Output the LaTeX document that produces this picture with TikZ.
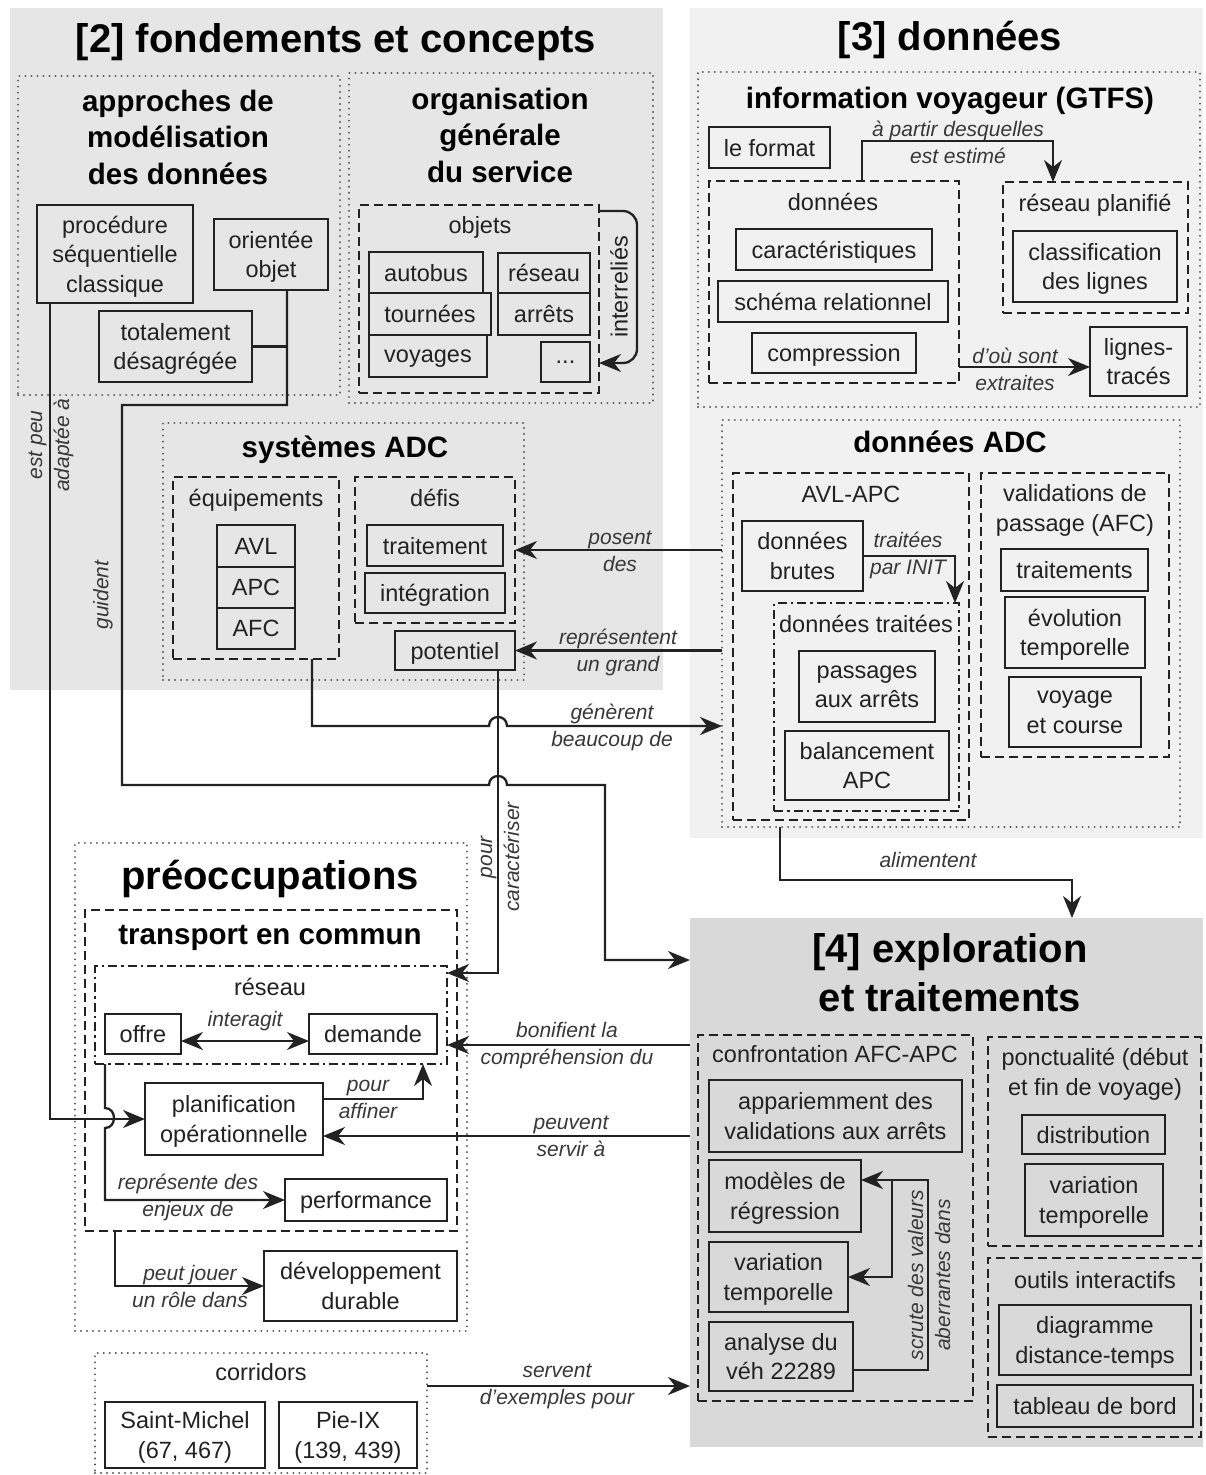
\documentclass[tikz,border=0pt]{standalone}
\usepackage{fontspec}
\setmainfont{Liberation Sans}
\usetikzlibrary{arrows.meta}
\definecolor{ink}{HTML}{222222}
\definecolor{pgray}{HTML}{E6E6E6}
\definecolor{plight}{HTML}{F1F1F1}
\definecolor{pdark}{HTML}{D9D9D9}
\definecolor{dotc}{HTML}{555555}
\newcommand\bigfont{\fontsize{40}{49}\selectfont\bfseries}
\newcommand\subfont{\fontsize{29.5}{36.5}\selectfont\bfseries}
\newcommand\boxfont{\fontsize{23.5}{29.5}\selectfont}
\newcommand\labfont{\fontsize{21}{27}\selectfont\itshape}
% \bx[style]{name}{x1}{y1}{x2}{y2}{text}: rectangle node between two corners
\newcommand\bx[7][solidbox]{\node[#1,minimum width={#5-#3},minimum height={#6-#4}] (#2) at ({(#3+#5)/2},{(#4+#6)/2}) {#7};}
\tikzset{
  frame/.style={draw=ink, line width=2.3pt, inner sep=0pt, outer sep=0pt, font=\boxfont, text=ink, align=center, text depth=0pt},
  solidbox/.style={frame},
  dotbox/.style={frame, draw=dotc, line width=2.2pt, line cap=round, dash pattern=on 0.01pt off 6pt},
  dashbox/.style={frame, dash pattern=on 9pt off 5pt},
  dashdotbox/.style={frame, dash pattern=on 9pt off 4pt on 2.5pt off 4pt},
  panel/.style={draw=none, inner sep=0pt, outer sep=0pt},
  conn/.style={draw=ink, line width=2.3pt},
  tip/.tip={Stealth[length=22pt,width=18pt,inset=7pt]},
  arr/.style={conn, -tip},
  arrs/.style={conn, tip-tip},
  lab/.style={font=\labfont, text=ink!90, align=center, inner sep=0pt},
  txt/.style={font=\boxfont, text=ink, align=center, inner sep=0pt, text depth=0pt},
  subt/.style={font=\subfont, text=black, align=center, inner sep=0pt, text depth=0pt},
  bigt/.style={font=\bigfont, text=black, align=center, inner sep=0pt, text depth=0pt},
}
\begin{document}
\begin{tikzpicture}[x=1pt,y=-1pt]
\useasboundingbox (0,0) rectangle (1205,1475);
\fill[white] (0,0) rectangle (1205,1475);

% ---------- section panels ----------
\bx[panel,fill=pgray]{p2}{10}{8}{663}{690}{}
\bx[panel,fill=plight]{p3}{690}{8}{1203}{838}{}
\bx[panel,fill=pdark]{p4}{690}{918}{1203}{1447}{}

\node[bigt] (t2) at (336,38) {[2] fondements et concepts};
\node[bigt] (t3) at (950,36) {[3] données};
\node[bigt] (t4) at (950,972) {[4] exploration\\et traitements};

% ---------- [2] fondements et concepts ----------
\bx[dotbox]{appr}{18}{76}{340}{395}{}
\node[subt] (tappr) at (178,137) {approches de\\modélisation\\des données};
\bx{proc}{37}{205}{193}{303}{procédure\\séquentielle\\classique}
\bx{orient}{214}{219}{328}{290}{orientée\\objet}
\bx{totdes}{99}{311}{252}{382}{totalement\\désagrégée}

\bx[dotbox]{orga}{349}{73}{653}{403}{}
\node[subt] (torga) at (500,135) {organisation\\générale\\du service};
\bx[dashbox]{objets}{359}{205}{599}{393}{}
\node[txt] (tobj) at (480,225) {objets};
\bx{autobus}{369}{252}{483}{293}{autobus}
\bx{reseauO}{498}{253}{590}{293}{réseau}
\bx{tournees}{369}{293}{491}{335}{tournées}
\bx{arrets}{498}{293}{590}{335}{arrêts}
\bx{voyages}{369}{335}{487}{377}{voyages}
\bx{etc}{541}{342}{590}{382}{...}

\bx[dotbox]{sysadc}{163}{423}{524}{680}{}
\node[subt] (tsys) at (345,447) {systèmes ADC};
\bx[dashbox]{equip}{173}{477}{339}{659}{}
\node[txt] (tequip) at (256,498) {équipements};
\bx{avl}{217}{525}{295}{567}{AVL}
\bx{apc}{217}{567}{295}{608}{APC}
\bx{afc}{217}{608}{295}{649}{AFC}
\bx[dashbox]{defis}{355}{477}{515}{623}{}
\node[txt] (tdefis) at (435,498) {défis};
\bx{trait}{367}{525}{503}{566}{traitement}
\bx{integ}{365}{573}{505}{613}{intégration}
\bx{pot}{395}{631}{515}{670}{potentiel}

% ---------- [3] données ----------
\bx[dotbox]{info}{698}{72}{1200}{407}{}
\node[subt] (tinfo) at (950,98) {information voyageur (GTFS)};
\bx{format}{709}{127}{830}{168}{le format}
\bx[dashbox]{donnees}{709}{181}{959}{383}{}
\node[txt] (tdonnees) at (833,202) {données};
\bx{carac}{736}{229}{932}{270}{caractéristiques}
\bx{schema}{718}{281}{948}{322}{schéma relationnel}
\bx{compr}{752}{333}{916}{373}{compression}
\bx[dashbox]{resplan}{1003}{182}{1188}{313}{}
\node[txt] (tresplan) at (1095,203) {réseau planifié};
\bx{classif}{1013}{231}{1177}{302}{classification\\des lignes}
\bx{lignes}{1090}{327}{1187}{396}{lignes-\\tracés}

\bx[dotbox]{dADC}{722}{420}{1180}{827}{}
\node[subt] (tdadc) at (950,442) {données ADC};
\bx[dashbox]{avlapc}{733}{473}{969}{820}{}
\node[txt] (tavlapc) at (851,494) {AVL-APC};
\bx{brutes}{742}{521}{863}{591}{données\\brutes}
\bx[dashdotbox]{dtrait}{774}{603}{959}{811}{}
\node[txt] (tdtrait) at (866,624) {données traitées};
\bx{passages}{799}{651}{935}{722}{passages\\aux arrêts}
\bx{balanc}{785}{731}{949}{800}{balancement\\APC}
\bx[dashbox]{valid}{981}{473}{1169}{757}{}
\node[txt] (tvalid) at (1075,508) {validations de\\passage (AFC)};
\bx{traitmts}{1001}{549}{1148}{591}{traitements}
\bx{evol}{1005}{597}{1145}{668}{évolution\\temporelle}
\bx{voyco}{1009}{677}{1141}{747}{voyage\\et course}

% ---------- préoccupations ----------
\bx[dotbox]{preocc}{75}{843}{467}{1331}{}
\node[bigt] (tpreocc) at (270,875) {préoccupations};
\bx[dashbox]{tec}{85}{910}{457}{1231}{}
\node[subt] (ttec) at (270,935) {transport en commun};
\bx[dashdotbox]{reseau}{95}{966}{447}{1064}{}
\node[txt] (treseau) at (270,987) {réseau};
\bx{offre}{105}{1014}{181}{1054}{offre}
\bx{demande}{309}{1014}{437}{1054}{demande}
\bx{planif}{145}{1083}{323}{1155}{planification\\opérationnelle}
\bx{perf}{285}{1179}{447}{1221}{performance}
\bx{devdur}{264}{1251}{457}{1321}{développement\\durable}

\bx[dotbox]{corr}{95}{1353}{427}{1473}{}
\node[txt] (tcorr) at (261,1372) {corridors};
\bx{stmichel}{105}{1402}{265}{1468}{Saint-Michel\\(67, 467)}
\bx{pieix}{279}{1402}{417}{1468}{Pie-IX\\(139, 439)}

% ---------- [4] exploration et traitements ----------
\bx[dashbox]{confr}{698}{1035}{973}{1401}{}
\node[txt] (tconfr) at (835,1054) {confrontation AFC-APC};
\bx{appar}{709}{1080}{962}{1152}{appariemment des\\validations aux arrêts}
\bx{modeles}{709}{1160}{861}{1232}{modèles de\\régression}
\bx{variat}{709}{1242}{848}{1312}{variation\\temporelle}
\bx{analyse}{709}{1322}{853}{1391}{analyse du\\véh 22289}
\bx[dashbox]{ponct}{988}{1037}{1201}{1246}{}
\node[txt] (tponct) at (1095,1072) {ponctualité (début\\et fin de voyage)};
\bx{distrib}{1022}{1115}{1165}{1154}{distribution}
\bx{variat2}{1025}{1164}{1163}{1236}{variation\\temporelle}
\bx[dashbox]{outils}{988}{1258}{1201}{1437}{}
\node[txt] (toutils) at (1095,1280) {outils interactifs};
\bx{diagr}{999}{1305}{1191}{1375}{diagramme\\distance-temps}
\bx{tableau}{997}{1385}{1193}{1427}{tableau de bord}

% ---------- connectors ----------
% objects are interrelated
\draw[arr, rounded corners=14pt] ([yshift=-6pt]objets.north east) -- (637,211) -- (637,363) -- ([yshift=30pt]objets.south east);
\node[txt, rotate=90] (linter) at (619,287) {interreliés};

% modelling approaches
\draw[conn] (totdes.east) -- (287,346.5);
\draw[arr] ([xshift=16pt]orient.south) -- (287,405) -- (122,405) -- (122,785)
  -- (489,785) .. controls (489,773) and (507,773) .. (507,785)
  -- (605,785) -- (605,960) -- ([yshift=222.5pt]p4.west);
\node[lab, rotate=90] (lguide) at (103,595) {guident};
\draw[arr] ([xshift=-65pt]proc.south) |- (planif.west);
\node[lab, rotate=90] (lpeu) at (51,445) {est peu\\adaptée à};

% ADC systems and data
\draw[arr] ([xshift=56pt]equip.south) -- (312,726)
  -- (489,726) .. controls (489,714) and (507,714) .. (507,726)
  -- ([yshift=-102.5pt]dADC.west);
\node[lab] (lgen) at (612,727) {génèrent\\beaucoup de};
\draw[arr] (dADC.west |- defis.east) -- (defis.east);
\node[lab] (lpos) at (620,551) {posent\\des};
\draw[arr] (dADC.west |- pot.east) -- (pot.east);
\node[lab] (lrep) at (618,652) {représentent\\un grand};
\draw[arr] ([xshift=43pt]pot.south) |- ([yshift=-7pt]reseau.north east);
\node[lab, rotate=90] (lcar) at (500,857) {pour\\caractériser};

% GTFS
\draw[arr] ([xshift=28pt]donnees.north) -- (862,141) -| ([xshift=-42.5pt]resplan.north);
\node[lab] (lpart) at (958,142) {à partir desquelles\\est estimé};
\draw[arr] ([yshift=-85pt]donnees.east) -- ([yshift=-85pt]donnees.east -| lignes.west);
\node[lab] (lsont) at (1015,369) {d'où sont\\extraites};

% AVL-APC processing
\draw[arr] (brutes.east) -| ([xshift=-4pt]dtrait.north east);
\node[lab] (linit) at (908,555) {traitées\\par INIT};

% data feed exploration
\draw[arr] ([xshift=-171pt]dADC.south) -- (780,880) -| ([xshift=125.5pt]p4.north);
\node[lab] (lalim) at (928,860) {alimentent};

% concerns
\draw[arrs] ([yshift=-7pt]offre.east) -- ([yshift=-7pt]offre.east -| demande.west);
\node[lab] (linter2) at (245,1021) {interagit};
\draw[arr] ([yshift=20pt]planif.east) -| ([xshift=152pt]reseau.south);
\node[lab] (laff) at (368,1099) {pour\\affiner};
\draw[arr] (offre.south west |- reseau.south) -- (105,1108)
  .. controls (117,1108) and (117,1128) .. (105,1128) |- (perf.west);
\node[lab] (lenj) at (188,1197) {représente des\\enjeux de};
\draw[arr] ([xshift=-156pt]tec.south) |- (devdur.west);
\node[lab] (lrole) at (190,1286) {peut jouer\\un rôle dans};

% exploration back to concerns
\draw[arr] ([yshift=-30pt]reseau.east -| p4.west) -- ([yshift=-30pt]reseau.east);
\node[lab] (lbon) at (567,1046) {bonifient la\\compréhension du};
\draw[arr] ([yshift=-17pt]planif.east -| p4.west) -- ([yshift=-17pt]planif.east);
\node[lab] (lserv) at (571,1136) {peuvent\\servir à};
\draw[arr] ([yshift=27pt]corr.east) -- ([yshift=27pt]corr.east -| p4.west);
\node[lab] (lexe) at (557,1386) {servent\\d'exemples pour};

% outlier screening
\draw[arr] ([yshift=-13.5pt]analyse.east) -| (928,1180) -- ([yshift=16pt]modeles.east);
\draw[arr] (892,1180) |- (variat.east);
\node[lab, rotate=90] (lscr) at (929,1275) {scrute des valeurs\\aberrantes dans};
\end{tikzpicture}
\end{document}
